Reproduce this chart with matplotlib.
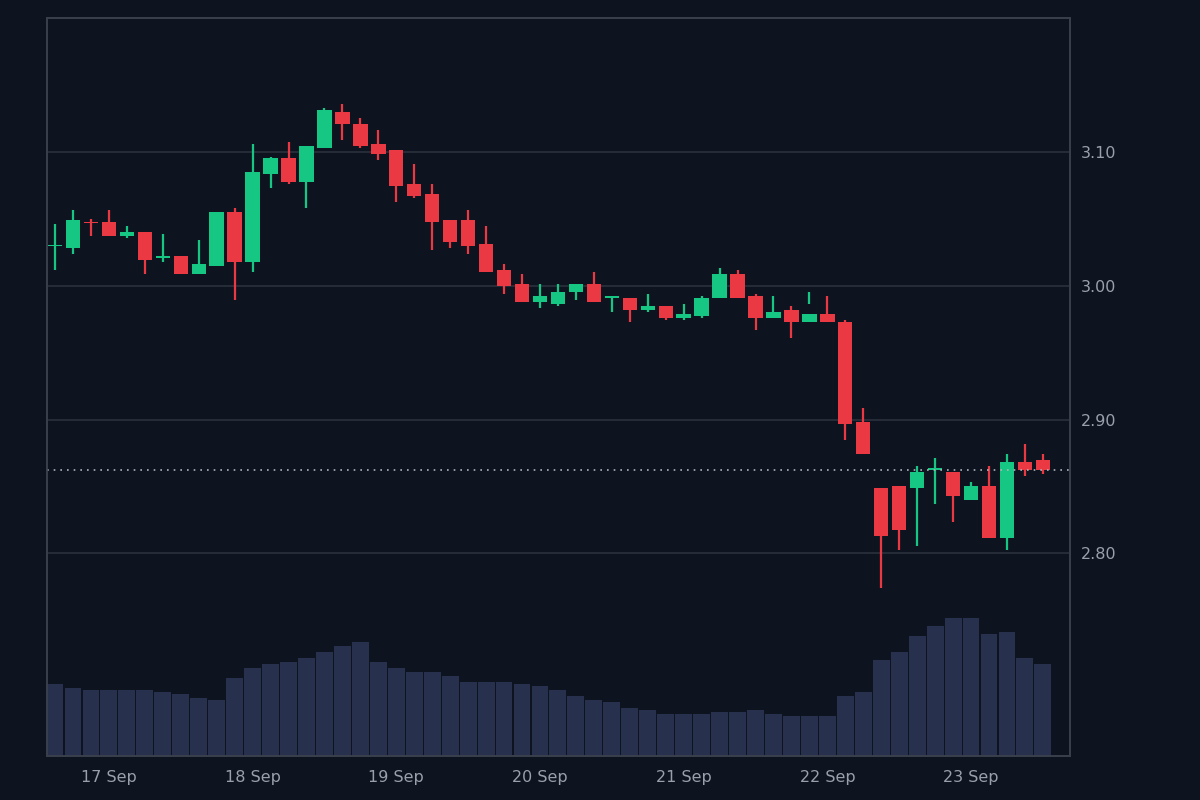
import numpy as np
import matplotlib
matplotlib.use("Agg")
import matplotlib.pyplot as plt
import matplotlib.dates as mdates
import pandas as pd

# values (price levels)
opens = [3.0297, 3.0282, 3.0477, 3.0477, 3.0372, 3.0402, 3.0207, 3.0222, 3.0088, 3.0148,
         3.0552, 3.0178, 3.0836, 3.0956, 3.0776, 3.1034, 3.1304, 3.1214, 3.1064, 3.1019,
         3.0761, 3.0686, 3.0492, 3.0492, 3.0312, 3.0118, 3.0015, 2.9880, 2.9865, 2.9955,
         3.0015, 2.9910, 2.9910, 2.9820, 2.9850, 2.9760, 2.9775, 2.9910, 3.0090, 2.9925,
         2.9760, 2.9820, 2.9730, 2.9790, 2.9730, 2.8981, 2.8487, 2.8502, 2.8487, 2.8622,
         2.8607, 2.8397, 2.8502, 2.8112, 2.8682, 2.8697]
closes = [3.0297, 3.0492, 3.0470, 3.0372, 3.0402, 3.0193, 3.0222, 3.0088, 3.0163, 3.0553,
          3.0178, 3.0852, 3.0956, 3.0776, 3.1049, 3.1318, 3.1214, 3.1049, 3.0986, 3.0746,
          3.0671, 3.0477, 3.0327, 3.0297, 3.0103, 3.0000, 2.9880, 2.9925, 2.9955, 3.0015,
          2.9880, 2.9925, 2.9820, 2.9850, 2.9760, 2.9790, 2.9910, 3.0090, 2.9910, 2.9760,
          2.9805, 2.9730, 2.9790, 2.9730, 2.8966, 2.8742, 2.8127, 2.8172, 2.8607, 2.8637,
          2.8427, 2.8502, 2.8112, 2.8682, 2.8622, 2.8622]
highs = [3.0461, 3.0569, 3.0502, 3.0569, 3.0449, 3.0404, 3.0389, 3.0225, 3.0345, 3.0555,
         3.0584, 3.1064, 3.0966, 3.1079, 3.1049, 3.1333, 3.1363, 3.1259, 3.1168, 3.1019,
         3.0914, 3.0764, 3.0494, 3.0569, 3.0449, 3.0165, 3.0090, 3.0015, 3.0015, 3.0015,
         3.0105, 2.9910, 2.9910, 2.9940, 2.9850, 2.9865, 2.9925, 3.0135, 3.0120, 2.9940,
         2.9925, 2.9850, 2.9865, 2.9925, 2.9745, 2.9086, 2.8487, 2.8232, 2.8652, 2.8712,
         2.8607, 2.8532, 2.8652, 2.8742, 2.8817, 2.8742]
lows = [3.0120, 3.0240, 3.0375, 3.0375, 3.0360, 3.0090, 3.0180, 3.0090, 3.0090, 3.0150,
        2.9895, 3.0105, 3.0734, 3.0764, 3.0584, 3.1034, 3.1094, 3.1034, 3.0944, 3.0629,
        3.0659, 3.0270, 3.0285, 3.0240, 3.0105, 2.9940, 2.9880, 2.9835, 2.9850, 2.9895,
        2.9880, 2.9805, 2.9730, 2.9805, 2.9745, 2.9745, 2.9760, 2.9910, 2.9910, 2.9670,
        2.9805, 2.9610, 2.9955, 2.9730, 2.8847, 2.8742, 2.7738, 2.8022, 2.8052, 2.8367,
        2.8232, 2.8427, 2.8112, 2.8022, 2.8577, 2.8592]
volumes = [72, 68, 66, 66, 66, 66, 64, 62, 58, 56,
           78, 88, 92, 94, 98, 104, 110, 114, 94, 88,
           84, 84, 80, 74, 74, 74, 72, 70, 66, 60,
           56, 54, 48, 46, 42, 42, 42, 44, 44, 46,
           42, 40, 40, 40, 60, 64, 96, 104, 120, 130,
           138, 138, 122, 124, 98, 92]
day_labels = ["17 Sep", "18 Sep", "19 Sep", "20 Sep", "21 Sep", "22 Sep", "23 Sep"]

times = pd.date_range("2024-09-16 15:00", periods=len(opens), freq="3h")
t = mdates.date2num(times)
step = 3 / 24

bg = "#0d1420"
up, down = "#16c784", "#ea3943"
grid_c = "#2b313d"

fig = plt.figure(figsize=(12, 8), dpi=100, facecolor=bg)
ax = fig.add_axes([47 / 1200, 44 / 800, 1023 / 1200, 738 / 800])
ax.set_facecolor(bg)
vax = ax.twinx()
vax.set_zorder(0)
ax.set_zorder(1)
ax.patch.set_visible(False)

vax.bar(t, volumes, width=step * 0.94, color="#27304d", align="center")
vax.set_ylim(0, 738)
vax.set_yticks([])

for ti, o, c, h, l in zip(t, opens, closes, highs, lows):
    col = up if c >= o else down
    ax.vlines(ti, l, h, color=col, linewidth=1.6)
    lo, hi = min(o, c), max(o, c)
    ax.bar(ti, max(hi - lo, 0.0012), bottom=lo, width=step * 0.8, color=col)

ax.axhline(closes[-1], color="#b0b4bc", linestyle=(0, (1, 3)), linewidth=1.2)

ax.set_ylim(2.648, 3.2007)
ax.set_xlim(t[0] - 8 / 143, t[-1] + 27 / 143)
ax.set_yticks([2.8, 2.9, 3.0, 3.1])
ax.set_yticklabels(["2.80", "2.90", "3.00", "3.10"])
ax.yaxis.tick_right()
ax.grid(axis="y", color=grid_c, linewidth=1.2)
ax.set_axisbelow(True)

day_ticks = mdates.date2num(pd.date_range("2024-09-17", periods=len(day_labels), freq="D"))
ax.set_xticks(day_ticks)
ax.set_xticklabels(day_labels)

for a in (ax, vax):
    for s in a.spines.values():
        s.set_color("#3a404c")
        s.set_linewidth(1.2)
ax.tick_params(colors="#9aa0ab", labelsize=11.5, length=0, pad=8)
ax.tick_params(axis="x", pad=10)

fig.savefig("out.png", dpi=100, facecolor=bg)
